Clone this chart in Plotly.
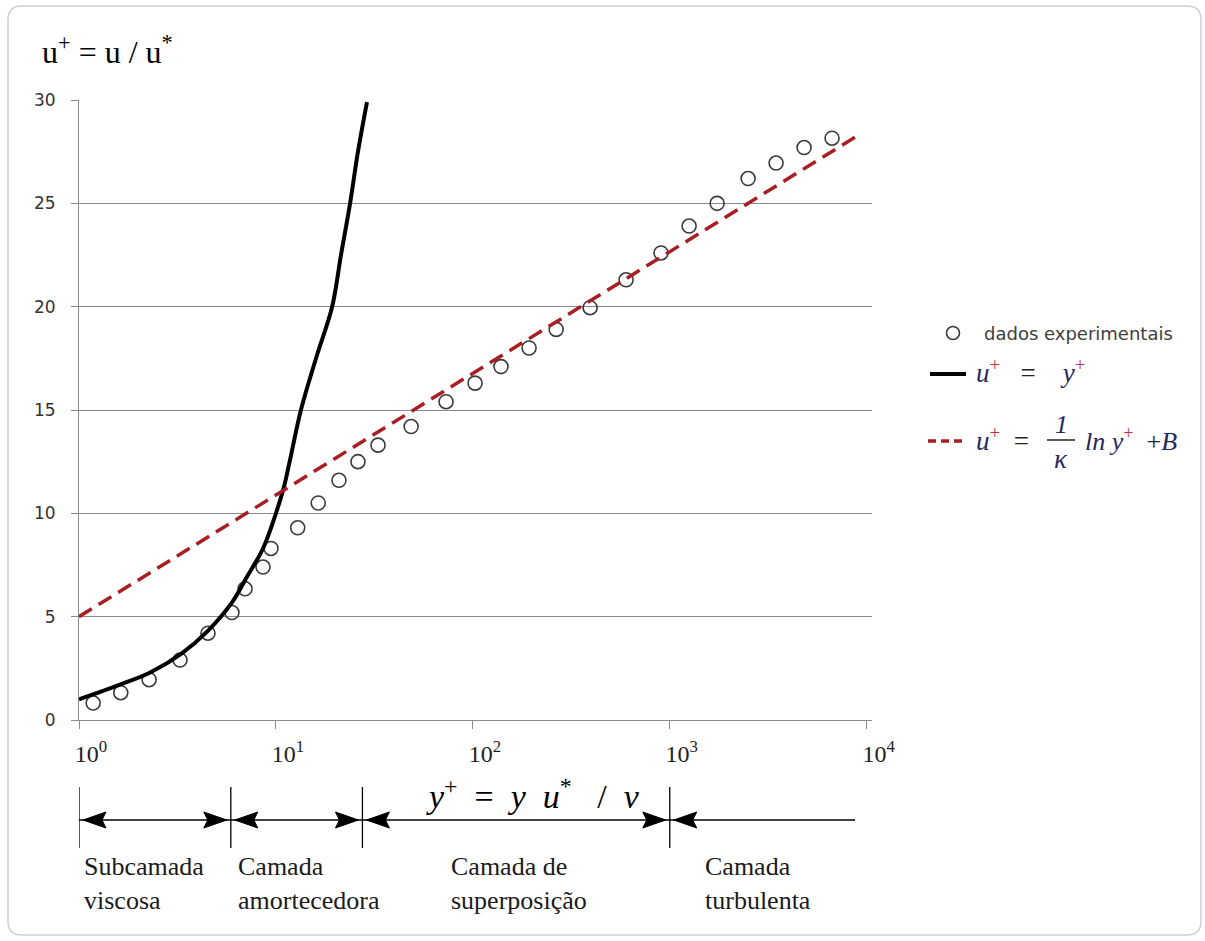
import plotly.graph_objects as go

# ---------------- data ----------------
yplus_exp = [1.18, 1.63, 2.27, 3.26, 4.52, 5.98, 6.97, 8.6, 9.44, 12.9, 16.4, 20.9,
             26.1, 33.0, 48.6, 73.1, 102.6, 139, 193, 265, 394, 600, 903, 1254,
             1740, 2500, 3467, 4810, 6670]
uplus_exp = [0.82, 1.32, 1.95, 2.9, 4.2, 5.2, 6.35, 7.4, 8.3, 9.3, 10.5, 11.6,
             12.5, 13.3, 14.2, 15.4, 16.3, 17.1, 18.0, 18.9, 19.95, 21.3, 22.6, 23.9,
             25.0, 26.2, 26.95, 27.7, 28.15]

yplus_visc = [1.0, 1.6, 2.3, 3.3, 4.5, 6.0, 7.0, 8.6, 10.0, 11.0, 11.8, 13.4, 16.1,
              19.3, 21.4, 23.8, 26.1, 29.0]
uplus_visc = [1.0, 1.7, 2.3, 3.2, 4.3, 5.7, 6.8, 8.3, 10.0, 11.3, 12.6, 15.0, 17.6,
              20.0, 22.5, 25.0, 27.5, 29.9]

yplus_log = [1.0, 8730]
uplus_log = [5.0, 28.2]

x_tickvals = [1, 10, 100, 1000, 10000]
x_ticktext = ["10<sup>0</sup>", "10<sup>1</sup>", "10<sup>2</sup>", "10<sup>3</sup>", "10<sup>4</sup>"]
y_tickvals = [0, 5, 10, 15, 20, 25, 30]

region_bounds = [1.0, 5.9, 27.5, 1000.0]
region_end = 8730.0
region_labels = ["Subcamada<br>viscosa", "Camada<br>amortecedora",
                 "Camada de<br>superposição", "Camada<br>turbulenta"]

# ---------------- geometry helpers (layout only) ----------------
W, H = 1205, 941
L, R, T, B = 79, 872, 100, 720


def px(xp):
    return (xp - L) / (R - L)


def py(yp):
    return (B - yp) / (B - T)


SERIF = "Liberation Serif"
SANS = "DejaVu Sans"
NAVY = "#27275f"
PLUS = "#c23048"
RED = "#a81e22"
SP = "&nbsp;"

fig = go.Figure()

fig.add_trace(go.Scatter(
    x=yplus_exp, y=uplus_exp, mode="markers",
    marker=dict(symbol="circle-open", size=14, color="#3a3a3a", line=dict(width=1.6)),
    showlegend=False, hoverinfo="skip"))

fig.add_trace(go.Scatter(
    x=yplus_visc, y=uplus_visc, mode="lines",
    line=dict(color="black", width=4, shape="spline", smoothing=1.0),
    showlegend=False, hoverinfo="skip"))

fig.add_trace(go.Scatter(
    x=yplus_log, y=uplus_log, mode="lines",
    line=dict(color=RED, width=3.5, dash="15px,8px"),
    showlegend=False, hoverinfo="skip"))

shapes = []
annotations = []

# rounded border
bx0, bx1, by0, by1 = px(8), px(1201), py(935), py(6)
rx, ry = 14 / (R - L), 14 / (B - T)
path = (f"M {bx0+rx},{by1} L {bx1-rx},{by1} Q {bx1},{by1} {bx1},{by1-ry} "
        f"L {bx1},{by0+ry} Q {bx1},{by0} {bx1-rx},{by0} L {bx0+rx},{by0} "
        f"Q {bx0},{by0} {bx0},{by0+ry} L {bx0},{by1-ry} Q {bx0},{by1} {bx0+rx},{by1} Z")
shapes.append(dict(type="path", xref="paper", yref="paper", path=path,
                   line=dict(color="#cfcfcf", width=1.5), layer="below"))

# ---- bottom region ruler ----
y_line = py(820)
for b in region_bounds:
    shapes.append(dict(type="line", xref="x", yref="paper", x0=b, x1=b,
                       y0=py(787), y1=py(848), line=dict(color="black", width=1.3)))
shapes.append(dict(type="line", xref="x", yref="paper", x0=region_bounds[0], x1=region_end,
                   y0=y_line, y1=y_line, line=dict(color="black", width=1.6)))
left_head = "M 4,0 L 27,8 L 23,0 L 27,-8 Z"
right_head = "M -4,0 L -27,8 L -23,0 L -27,-8 Z"
for i, b in enumerate(region_bounds):
    shapes.append(dict(type="path", xref="x", yref="paper", xsizemode="pixel",
                       ysizemode="pixel", xanchor=b, yanchor=y_line, path=left_head,
                       fillcolor="black", line=dict(color="black", width=1)))
    if i > 0:
        shapes.append(dict(type="path", xref="x", yref="paper", xsizemode="pixel",
                           ysizemode="pixel", xanchor=b, yanchor=y_line, path=right_head,
                           fillcolor="black", line=dict(color="black", width=1)))

label_left_px = [82, 236, 449, 703]
for lbl, xl in zip(region_labels, label_left_px):
    annotations.append(dict(xref="paper", yref="paper", x=px(xl), y=py(850),
                            xanchor="left", yanchor="top", align="left", showarrow=False,
                            text=lbl, font=dict(family=SERIF, size=26, color="#1a1a1a")))

# axis titles
annotations.append(dict(xref="paper", yref="paper", x=px(40), y=py(50), xanchor="left",
                        yanchor="middle", showarrow=False,
                        text="u<sup>+</sup> = u / u<sup>*</sup>",
                        font=dict(family=SERIF, size=32, color="black")))
annotations.append(dict(xref="paper", yref="paper", x=px(533), y=py(794), xanchor="center",
                        yanchor="middle", showarrow=False,
                        text=(f"<i>y</i><sup>+</sup>{SP}{SP}={SP}{SP}<i>y</i>{SP}{SP}<i>u</i><sup>*</sup>"
                              f"{SP}{SP}{SP}/{SP}{SP}<i>ν</i>"),
                        font=dict(family=SERIF, size=34, color="black")))

# ---- manual legend ----
shapes.append(dict(type="circle", xref="paper", yref="paper", xsizemode="pixel",
                   ysizemode="pixel", xanchor=px(953), yanchor=py(333),
                   x0=-6.5, x1=6.5, y0=-6.5, y1=6.5, line=dict(color="#3a3a3a", width=1.6)))
annotations.append(dict(xref="paper", yref="paper", x=px(982), y=py(333), xanchor="left",
                        yanchor="middle", showarrow=False, text="dados experimentais",
                        font=dict(family=SANS, size=18, color="#404040")))

shapes.append(dict(type="line", xref="paper", yref="paper", x0=px(930), x1=px(966),
                   y0=py(374), y1=py(374), line=dict(color="black", width=4)))
annotations.append(dict(xref="paper", yref="paper", x=px(974), y=py(371), xanchor="left",
                        yanchor="middle", showarrow=False,
                        text=(f"<span style='color:{NAVY}'><i>u</i></span>"
                              f"<sup><span style='color:{PLUS}'>+</span></sup>{SP}{SP}{SP}={SP}{SP}{SP}{SP}"
                              f"<span style='color:{NAVY}'><i>y</i></span>"
                              f"<sup><span style='color:{PLUS}'>+</span></sup>"),
                        font=dict(family=SERIF, size=27, color="#222")))

shapes.append(dict(type="line", xref="paper", yref="paper", x0=px(928), x1=px(966),
                   y0=py(441), y1=py(441), line=dict(color=RED, width=3.5, dash="8px,5px")))
annotations.append(dict(xref="paper", yref="paper", x=px(974), y=py(439), xanchor="left",
                        yanchor="middle", showarrow=False,
                        text=(f"<span style='color:{NAVY}'><i>u</i></span>"
                              f"<sup><span style='color:{PLUS}'>+</span></sup>{SP}{SP}="),
                        font=dict(family=SERIF, size=27, color="#222")))
annotations.append(dict(xref="paper", yref="paper", x=px(1061), y=py(424), xanchor="center",
                        yanchor="middle", showarrow=False, text="<i>1</i>",
                        font=dict(family=SERIF, size=26, color=NAVY)))
shapes.append(dict(type="line", xref="paper", yref="paper", x0=px(1047), x1=px(1075),
                   y0=py(440), y1=py(440), line=dict(color="#222", width=1.5)))
annotations.append(dict(xref="paper", yref="paper", x=px(1061), y=py(459), xanchor="center",
                        yanchor="middle", showarrow=False, text="<i>κ</i>",
                        font=dict(family=SERIF, size=27, color=NAVY)))
annotations.append(dict(xref="paper", yref="paper", x=px(1083), y=py(439), xanchor="left",
                        yanchor="middle", showarrow=False,
                        text=(f"<span style='color:{NAVY}'><i>ln{SP}y</i></span>"
                              f"<sup><span style='color:{PLUS}'>+</span></sup>"
                              f"{SP}{SP}+<span style='color:{NAVY}'><i>B</i></span>"),
                        font=dict(family=SERIF, size=26, color="#222")))

fig.update_layout(
    width=W, height=H,
    margin=dict(l=L, r=W - R, t=T, b=H - B),
    paper_bgcolor="white", plot_bgcolor="white",
    showlegend=False,
    shapes=shapes, annotations=annotations,
    xaxis=dict(type="log", range=[0, 4.027], showgrid=False, zeroline=False,
               showline=True, linecolor="#8a8a8a", linewidth=1,
               ticks="outside", ticklen=8, tickcolor="#8a8a8a",
               tickvals=x_tickvals, ticktext=x_ticktext,
               tickfont=dict(family=SERIF, size=24, color="#222"),
               ticklabelshift=12, ticklabelstandoff=4),
    yaxis=dict(range=[0, 30], tickvals=y_tickvals, showgrid=True, gridcolor="#8a8a8a",
               gridwidth=1, zeroline=False, showline=True, linecolor="#8a8a8a",
               linewidth=1, ticks="outside", ticklen=7, tickcolor="#8a8a8a",
               tickfont=dict(family=SANS, size=17, color="#333"),
               ticklabelstandoff=12),
)

fig.write_html("out.html", config={"displayModeBar": False},
               post_script="document.body.style.margin='0';document.body.style.padding='0';"
                           "document.body.style.overflow='hidden';")
